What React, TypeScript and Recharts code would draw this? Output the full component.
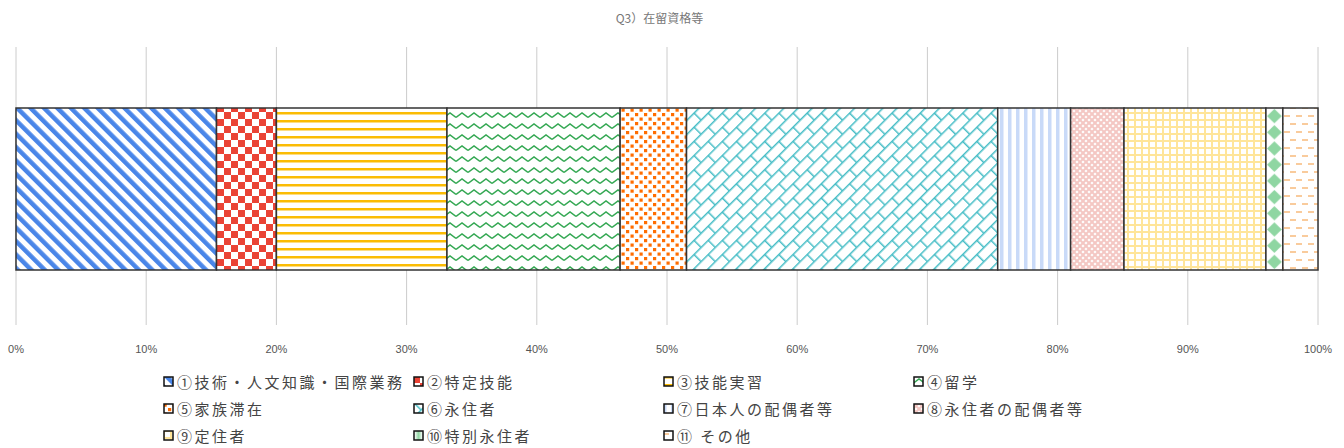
import React from "react"
import { BarChart, Bar, XAxis, YAxis, CartesianGrid } from "recharts"

const categories = ["Q3）在留資格等"]
const seriesNames = [
  "①技術・人文知識・国際業務",
  "②特定技能",
  "③技能実習",
  "④留学",
  "⑤家族滞在",
  "⑥永住者",
  "⑦日本人の配偶者等",
  "⑧永住者の配偶者等",
  "⑨定住者",
  "⑩特別永住者",
  "⑪ その他",
]
const seriesValues = [15.4, 4.6, 13.1, 13.3, 5.1, 23.9, 5.6, 4.1, 10.9, 1.3, 2.7]
const tickValues = [0, 10, 20, 30, 40, 50, 60, 70, 80, 90, 100]

const row: Record<string, string | number> = { name: categories[0] }
seriesValues.forEach((v, i) => {
  row[`s${i}`] = v
})
const data = [row]

function Patterns() {
  return (
    <svg width={0} height={0} style={{ position: "absolute", left: 0, top: 0 }}>
      <defs>
        <pattern id="p0" width="9.5" height="9.5" patternUnits="userSpaceOnUse" patternTransform="rotate(-45)">
          <rect width="9.5" height="9.5" fill="#fff" />
          <rect width="4.5" height="9.5" fill="#4a86e8" />
        </pattern>
        <pattern id="p1" width="14" height="14" patternUnits="userSpaceOnUse">
          <rect width="14" height="14" fill="#fff" />
          <rect width="7" height="7" fill="#ea4335" />
          <rect x="7" y="7" width="7" height="7" fill="#ea4335" />
        </pattern>
        <pattern id="p2" width="8" height="8" patternUnits="userSpaceOnUse">
          <rect width="8" height="8" fill="#fff" />
          <rect width="8" height="2.5" fill="#fbbc04" />
        </pattern>
        <pattern id="p3" width="12" height="11" patternUnits="userSpaceOnUse">
          <rect width="12" height="11" fill="#fff" />
          <path d="M0 7.5 L6 3 L12 7.5" fill="none" stroke="#34a853" strokeWidth="1.5" />
        </pattern>
        <pattern id="p4" width="9" height="9" patternUnits="userSpaceOnUse">
          <rect width="9" height="9" fill="#fff" />
          <rect x="0.5" y="0.5" width="3.2" height="3.2" fill="#ff6d01" />
          <rect x="5" y="5" width="3.2" height="3.2" fill="#ff6d01" />
        </pattern>
        <pattern id="p5" width="20" height="20" patternUnits="userSpaceOnUse" patternTransform="rotate(-45)">
          <rect width="20" height="20" fill="#fff" />
          <path d="M0 0.75H20 M0 10.75H20 M0.75 0V10.75 M10.75 10.75V20" fill="none" stroke="#46bdc6" strokeWidth="1.5" />
        </pattern>
        <pattern id="p6" width="8" height="8" patternUnits="userSpaceOnUse">
          <rect width="8" height="8" fill="#fff" />
          <rect width="3.5" height="8" fill="#c9daf8" />
        </pattern>
        <pattern id="p7" width="6" height="6" patternUnits="userSpaceOnUse">
          <rect width="6" height="6" fill="#fff" />
          <path d="M0 0L6 6M6 0L0 6" stroke="#f4c7c3" strokeWidth="2" />
        </pattern>
        <pattern id="p8" width="7" height="7" patternUnits="userSpaceOnUse">
          <rect width="7" height="7" fill="#fff" />
          <rect width="2" height="7" fill="#ffe599" />
          <rect width="7" height="2" fill="#ffe599" />
        </pattern>
        <pattern id="p9" width="1" height="0.1" patternUnits="objectBoundingBox" viewBox="0 0 16 16" preserveAspectRatio="none">
          <rect width="16" height="16" fill="#fff" />
          <path d="M8 1 L15 8 L8 15 L1 8Z" fill="#8fd6a2" />
        </pattern>
        <pattern id="p10" width="12" height="16" patternUnits="userSpaceOnUse">
          <rect width="12" height="16" fill="#fff" />
          <rect x="0" y="3" width="6" height="2" fill="#f9cb9c" />
          <rect x="6" y="11" width="6" height="2" fill="#f9cb9c" />
        </pattern>
      </defs>
    </svg>
  )
}

function LegendIcon({ idx }: { idx: number }) {
  return (
    <svg width={11} height={11} style={{ flex: "none" }}>
      <rect x={1} y={1} width={9} height={9} fill={`url(#p${idx})`} stroke="#111" strokeWidth={1.5} />
    </svg>
  )
}

export default function App() {
  return (
    <div style={{ position: "relative", width: 1344, height: 448, background: "#fff", overflow: "hidden" }}>
      <style>{`body{margin:0}`}</style>
      <Patterns />
      <div
        style={{
          position: "absolute",
          top: 10,
          left: 0,
          width: 1319,
          textAlign: "center",
          fontFamily: "'Noto Sans CJK JP', sans-serif",
          fontSize: 12,
          color: "#777",
          lineHeight: "16px",
        }}
      >
        {categories[0]}
      </div>
      <div style={{ position: "absolute", left: 0, top: 0 }}>
        <BarChart
          width={1344}
          height={370}
          data={data}
          layout="vertical"
          margin={{ top: 47, right: 26, bottom: 15, left: 16 }}
        >
          <CartesianGrid horizontal={false} stroke="#cccccc" />
          <XAxis
            type="number"
            domain={[0, 100]}
            ticks={tickValues}
            tickFormatter={(v: number) => `${v}%`}
            axisLine={false}
            tickLine={false}
            tickSize={0}
            tickMargin={20}
            height={30}
            interval={0}
            tick={{ fill: "#555", fontSize: 11, fontFamily: "'Liberation Sans', Arial, sans-serif" }}
          />
          <YAxis
            type="category"
            dataKey="name"
            width={0}
            tick={false}
            tickLine={false}
            axisLine={{ stroke: "#222", strokeWidth: 2 }}
            padding={{ top: 6, bottom: 0 }}
          />
          {seriesValues.map((_, i) => (
            <Bar
              key={i}
              dataKey={`s${i}`}
              name={seriesNames[i]}
              stackId="a"
              barSize={162}
              fill={`url(#p${i})`}
              stroke="#333"
              strokeWidth={1.5}
              isAnimationActive={false}
            />
          ))}
        </BarChart>
      </div>
      {seriesNames.map((name, i) => (
        <div
          key={name}
          style={{
            position: "absolute",
            left: 163 + (i % 4) * 250,
            top: 368 + Math.floor(i / 4) * 27,
            height: 27,
            display: "flex",
            alignItems: "center",
            gap: 3,
            fontFamily: "'Noto Sans CJK JP', sans-serif",
            fontSize: 15,
            letterSpacing: 2.5,
            color: "#444",
            whiteSpace: "nowrap",
          }}
        >
          <LegendIcon idx={i} />
          <span>{name}</span>
        </div>
      ))}
    </div>
  )
}
